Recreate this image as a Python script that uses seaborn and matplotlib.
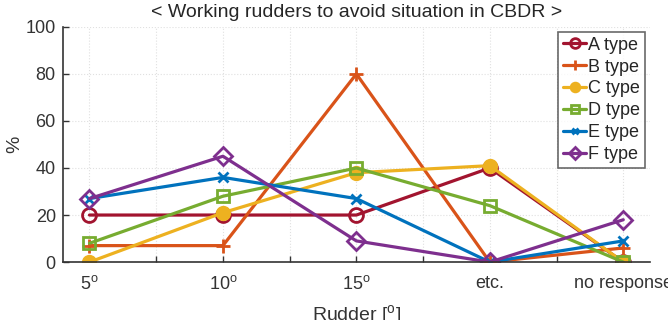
import numpy as np
import pandas as pd
import seaborn as sns
import matplotlib.pyplot as plt

rudders = ['5$^{\\mathrm{o}}$', '10$^{\\mathrm{o}}$', '15$^{\\mathrm{o}}$', 'etc.', 'no response']
types = ['A type', 'B type', 'C type', 'D type', 'E type', 'F type']
a_vals = [20, 20, 20, 40, 0]
b_vals = [7, 7, 80, 0, 6]
c_vals = [0, 21, 38, 41, 0]
d_vals = [8, 28, 40, 24, 0]
e_vals = [27, 36, 27, 0, 9]
f_vals = [27, 45, 9, 0, 18]

sns.set_style("white")
plt.rcParams['font.family'] = ['Liberation Sans', 'DejaVu Sans']
plt.rcParams['mathtext.fontset'] = 'custom'
plt.rcParams['mathtext.rm'] = 'Liberation Sans'

colors = ['#A2142F', '#D95319', '#EDB120', '#77AC30', '#0072BD', '#7E2F8E']
markers = ['o', '+', 'o', 's', 'x', 'D']
faces = ['none', 'none', '#EDB120', 'none', 'none', 'none']
sizes = [10, 10, 9, 9, 7, 9]

xpos = np.arange(1, 6)
series = [a_vals, b_vals, c_vals, d_vals, e_vals, f_vals]

fig = plt.figure(figsize=(6.68, 3.2), dpi=100)
ax = fig.add_axes([0.094, 0.181, 0.879, 0.735])

for vals, name, col, mk, fc, ms in zip(series, types, colors, markers, faces, sizes):
    sns.lineplot(x=xpos, y=vals, ax=ax, color=col, marker=mk, markersize=ms,
                 markerfacecolor=fc, markeredgecolor=col, markeredgewidth=2,
                 linewidth=2.3, label=name)

ax.set_xlim(0.8, 5.2)
ax.set_ylim(0, 100)
ax.set_xticks(np.arange(1, 5.01, 0.5))
ax.set_xticklabels([rudders[i // 2] if i % 2 == 0 else '' for i in range(9)])
ax.set_yticks(np.arange(0, 101, 20))
ax.tick_params(axis='both', direction='in', length=4, labelsize=13, colors='#333333',
               width=1, bottom=True, left=True, pad=5)
ax.tick_params(axis='x', pad=9)
ax.grid(True, color='#e0e0e0', linestyle=':', linewidth=0.8)
for s in ['top', 'right']:
    ax.spines[s].set_visible(False)
for s in ['left', 'bottom']:
    ax.spines[s].set_color('#333333')
    ax.spines[s].set_linewidth(1.2)

ax.set_title('< Working rudders to avoid situation in CBDR >', fontsize=14, color='#262626', pad=7)
ax.set_xlabel('Rudder [$^{\\mathrm{o}}$]', fontsize=14, color='#333333', labelpad=8)
ax.set_ylabel('%', fontsize=14, color='#333333', labelpad=2)

leg = ax.legend(loc='upper right', bbox_to_anchor=(0.997, 0.993), fontsize=13, frameon=True,
                fancybox=False, edgecolor='#444444', handlelength=1.3, handletextpad=0.1,
                labelspacing=0.27, borderpad=0.25, borderaxespad=0.2, markerscale=0.7)
leg.get_frame().set_linewidth(1.2)

fig.savefig('out.png', dpi=100)
